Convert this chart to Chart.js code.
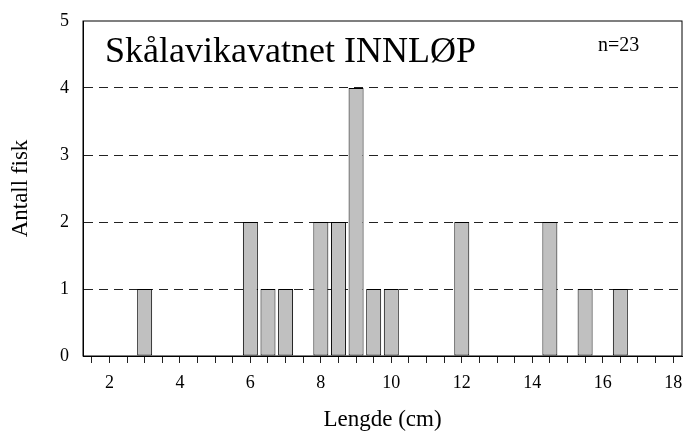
<!DOCTYPE html>
<html>
<head>
<meta charset="utf-8">
<script src="https://cdn.jsdelivr.net/npm/chart.js@4.4.1/dist/chart.umd.min.js"></script>
<style>
  html, body { margin: 0; padding: 0; background: #fff; }
  #wrap { width: 684px; height: 434px; }
</style>
</head>
<body>
<div id="wrap"><canvas id="lengde"></canvas></div>
<script>
// lengdeklasser (cm) og antall fisk
const lengder = ['1.5','2','2.5','3','3.5','4','4.5','5','5.5','6','6.5','7','7.5','8','8.5','9','9.5','10',
                 '10.5','11','11.5','12','12.5','13','13.5','14','14.5','15','15.5','16','16.5','17','17.5','18'];
const antall = [0,0,0,1,0,0,0,0,0,2,1,1,0,2,2,4,1,1,
                0,0,0,2,0,0,0,0,2,0,1,0,1,0,0,0];
const yTicks = [0, 1, 2, 3, 4, 5];

const tittel = 'Skålavikavatnet INNLØP';
const nTekst = 'n=23';
const serif = "'Liberation Serif', 'Times New Roman', serif";

// ramme rundt plottet + tittel inne i plottet
const rammePlugin = {
    id: 'ramme',
    afterDraw(chart) {
        const {ctx, chartArea: a} = chart;
        ctx.save();
        ctx.strokeStyle = '#000';
        ctx.lineWidth = 1;
        ctx.strokeRect(a.left, a.top, a.right - a.left, a.bottom - a.top);
        ctx.fillStyle = '#000';
        ctx.textBaseline = 'alphabetic';
        ctx.font = '36px ' + serif;
        ctx.fillText(tittel, a.left + 22, a.top + 41);
        ctx.font = '20px ' + serif;
        ctx.fillText(nTekst, a.left + 515, a.top + 30);
        ctx.restore();
    }
};

new Chart(document.getElementById('lengde'), {
    type: 'bar',
    data: {
        labels: lengder,
        datasets: [{
            data: antall,
            backgroundColor: '#c0c0c0',
            borderColor: '#000',
            borderWidth: 1,
            borderSkipped: false,
            barPercentage: 0.85,
            categoryPercentage: 1
        }]
    },
    options: {
        responsive: true,
        maintainAspectRatio: false,
        animation: false,
        layout: { padding: { top: 21, right: 2, left: 7, bottom: 0 } },
        plugins: {
            legend: { display: false },
            tooltip: { enabled: false }
        },
        scales: {
            x: {
                offset: true,
                grid: {
                    offset: false,
                    drawOnChartArea: false,
                    drawTicks: true,
                    tickLength: 7,
                    tickColor: '#222',
                    tickWidth: 1
                },
                border: { display: true, color: '#000', width: 1 },
                ticks: {
                    autoSkip: false,
                    maxRotation: 0,
                    padding: 9,
                    color: '#000',
                    font: { family: serif, size: 18 },
                    callback: function(value) {
                        const v = Number(this.getLabelForValue(value));
                        return (v % 2 === 0) ? String(v) : '';
                    }
                },
                title: {
                    display: true,
                    text: 'Lengde (cm)',
                    color: '#000',
                    padding: 0,
                    font: { family: serif, size: 23 }
                },
                afterFit(scale) {
                    scale.height = 78;
                    scale.paddingLeft = 0;
                    scale.paddingRight = 0;
                }
            },
            y: {
                min: 0,
                max: 5,
                afterBuildTicks(scale) { scale.ticks = yTicks.map(v => ({ value: v })); },
                grid: {
                    drawTicks: false,
                    color: (c) => (c.tick && (c.tick.value === 0 || c.tick.value === 5)) ? 'rgba(0,0,0,0)' : '#222',
                    lineWidth: 1
                },
                border: { display: true, color: '#000', width: 1, dash: [9, 6] },
                ticks: {
                    padding: 14,
                    color: '#000',
                    font: { family: serif, size: 18 }
                },
                title: {
                    display: true,
                    text: 'Antall fisk',
                    color: '#000',
                    padding: 0,
                    font: { family: serif, size: 23 }
                },
                afterFit(scale) {
                    scale.width = 76;
                    scale.paddingTop = 0;
                    scale.paddingBottom = 0;
                }
            }
        }
    },
    plugins: [rammePlugin]
});
</script>
</body>
</html>
